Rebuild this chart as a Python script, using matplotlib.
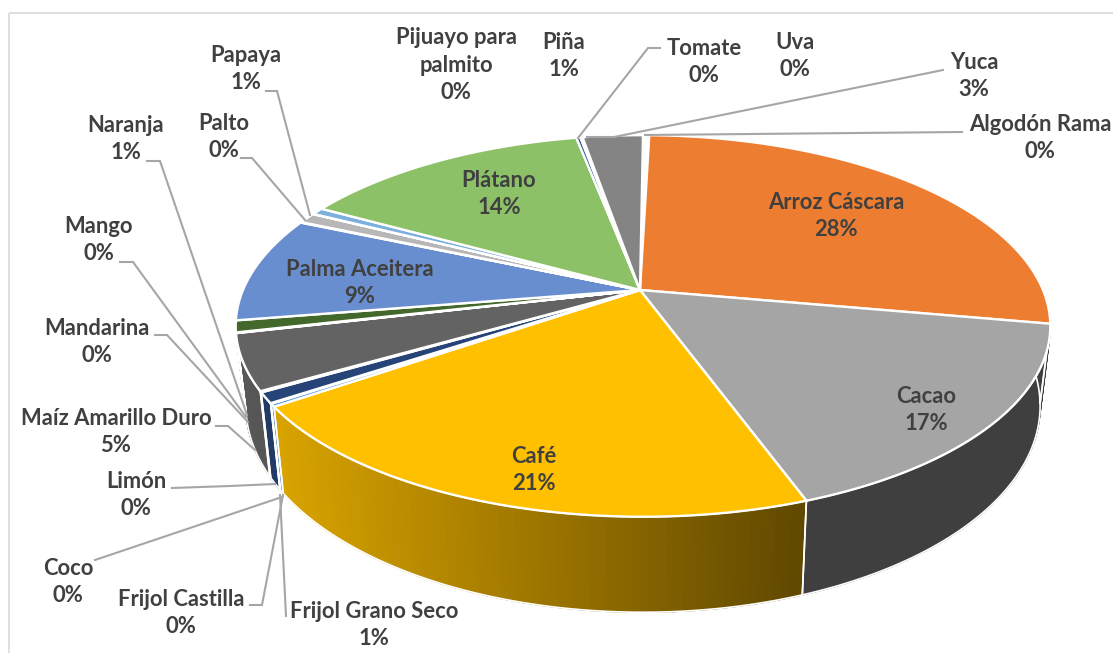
import numpy as np
import matplotlib
matplotlib.use('Agg')
import matplotlib.pyplot as plt
from matplotlib.patches import Polygon, Rectangle

plt.rcParams['font.family'] = ['Lato', 'DejaVu Sans']

# Clockwise from the top of the pie
crops = ['Algodón Rama', 'Arroz Cáscara', 'Cacao', 'Café', 'Coco', 'Frijol Castilla',
         'Frijol Grano Seco', 'Limón', 'Maíz Amarillo Duro', 'Mandarina', 'Mango', 'Naranja',
         'Palma Aceitera', 'Palto', 'Papaya', 'Pijuayo para\npalmito', 'Piña', 'Plátano',
         'Tomate', 'Uva', 'Yuca']
shares = [0.3, 27.85, 16.9, 21.1, 0.25, 0.05, 0.9, 0.1, 4.75, 0.03, 0.03, 1.0,
          9.1, 0.05, 0.9, 0.02, 0.6, 14.0, 0.2, 0.1, 2.9]
colors = ['#FFFFFF', '#ED7D31', '#A5A5A5', '#FFC000', '#5B9BD5', '#70AD47', '#264478', '#9E480E',
          '#636363', '#997300', '#255E91', '#43682B', '#698ED0', '#F1975A', '#B7B7B7', '#FFCD33',
          '#7CAFDD', '#8CC168', '#335AA1', '#D26012', '#848484']

# Label centres in picture pixels
label_pos = {
    'Algodón Rama': (1040, 138), 'Arroz Cáscara': (836, 216), 'Cacao': (926, 410), 'Café': (534, 470),
    'Coco': (68, 582), 'Frijol Castilla': (181, 613), 'Frijol Grano Seco': (374, 625),
    'Limón': (136, 495), 'Maíz Amarillo Duro': (116, 432), 'Mandarina': (97, 342), 'Mango': (99, 240),
    'Naranja': (126, 139), 'Palma Aceitera': (360, 283), 'Palto': (224, 137), 'Papaya': (246, 69),
    'Pijuayo para\npalmito': (456, 65), 'Piña': (564, 56), 'Plátano': (499, 194),
    'Tomate': (704, 62), 'Uva': (795, 56), 'Yuca': (974, 76),
}
leaders = [
    [(962, 132), (645, 135)],
    [(943, 70), (614, 137), (587, 137)],
    [(660, 48), (648, 48), (578, 138)],
    [(241, 158), (252, 158), (305, 220)],
    [(266, 91), (277, 91), (310, 215)],
    [(147, 161), (160, 161), (247, 415)],
    [(120, 262), (133, 262), (246, 417)],
    [(155, 335), (167, 335), (248, 422)],
    [(216, 426), (228, 426), (255, 450)],
    [(172, 488), (230, 486), (275, 484)],
    [(95, 560), (282, 497)],
    [(250, 605), (262, 605), (283, 495)],
    [(286, 616), (280, 495)],
]

# Perspective of the disc in the picture
apex_x, apex_y = 640, 290
cx, cy = 643, 290
ax_a, ax_b, tilt = 400, 184, 0.1885
depth, depth_slope, shrink = 77, 15, 0.975


def rim(theta, bottom=False):
    u, v = np.sin(theta), np.cos(theta)
    w = 1 + tilt * v
    if bottom:
        return cx + shrink * ax_a * u / w, cy + depth - (ax_b + depth_slope) * v / w
    return cx + ax_a * u / w, cy - ax_b * v / w


def shade(color, x):
    k = np.clip(0.85 - (x - 275) * 0.0009, 0.38, 0.9)
    return tuple(k * c for c in matplotlib.colors.to_rgb(color))


fig = plt.figure(figsize=(11.13, 6.53), dpi=100)
ax = fig.add_axes([0, 0, 1, 1])
ax.set_xlim(0, 1113)
ax.set_ylim(653, 0)
ax.axis('off')

ax.add_patch(Rectangle((8.5, 12.5), 1300, 800, fill=False, edgecolor='#D9D9D9', linewidth=1.2))

total = sum(shares)
edges = np.concatenate([[0], np.cumsum(shares)]) / total * 2 * np.pi

# Outer side of the disc, only the front part shows
for i, color in enumerate(colors):
    t0, t1 = max(edges[i], np.radians(92)), min(edges[i + 1], np.radians(258))
    if t1 <= t0:
        continue
    ts = np.linspace(t0, t1, max(2, int(np.degrees(t1 - t0)) + 1))
    for a, b in zip(ts[:-1], ts[1:]):
        xa, ya = rim(a)
        xb, yb = rim(b)
        xc, yc = rim(b, True)
        xd, yd = rim(a, True)
        c = shade(color, (xa + xb) / 2)
        ax.add_patch(Polygon([(xa, ya), (xb, yb), (xc, yc), (xd, yd)], closed=True,
                             facecolor=c, edgecolor=c, linewidth=1.0, zorder=2))
    xs_top, ys_top = rim(ts)
    xs_bot, ys_bot = rim(ts[::-1], True)
    ax.add_patch(Polygon(np.column_stack([np.r_[xs_top, xs_bot], np.r_[ys_top, ys_bot]]), closed=True,
                         fill=False, edgecolor='white', linewidth=1.2, zorder=3))

# Top face
for i, color in enumerate(colors):
    ts = np.linspace(edges[i], edges[i + 1], max(2, int(np.degrees(edges[i + 1] - edges[i]) * 2) + 1))
    xs, ys = rim(ts)
    ax.add_patch(Polygon(np.column_stack([np.r_[apex_x, xs], np.r_[apex_y, ys]]), closed=True,
                         facecolor=color, edgecolor='white', linewidth=1.7, zorder=4))

for line in leaders:
    xs, ys = zip(*line)
    ax.plot(xs, ys, color='#A6A6A6', linewidth=1.5, zorder=5, solid_joinstyle='miter')

for name, value in zip(crops, shares):
    x, y = label_pos[name]
    ax.text(x, y, f'{name}\n{round(value / total * 100)}%', ha='center', va='center',
            fontsize=15.8, fontweight='bold', color='#404040', linespacing=1.38, zorder=6)

fig.savefig('out.png', dpi=100)
